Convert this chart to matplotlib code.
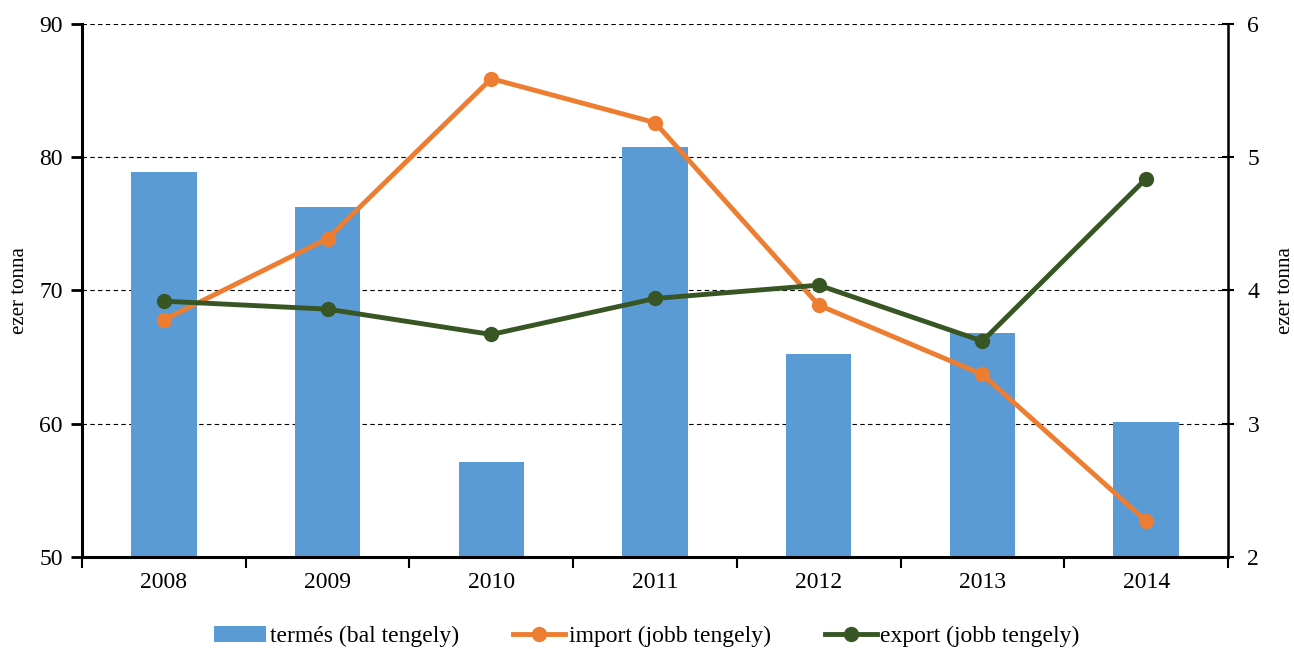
import numpy as np
import matplotlib.pyplot as plt
from matplotlib.ticker import FixedLocator, NullFormatter

plt.rcParams['font.family'] = ['Liberation Serif', 'DejaVu Serif']

# %%
years = ['2008', '2009', '2010', '2011', '2012', '2013', '2014']
termes = [78.9, 76.3, 57.1, 80.8, 65.2, 66.8, 60.1]
import_ = [3.78, 4.39, 5.59, 5.26, 3.89, 3.37, 2.27]
export = [3.92, 3.86, 3.67, 3.94, 4.04, 3.62, 4.84]

# %%
fig = plt.figure(figsize=(12.94, 6.49), dpi=100)
ax1 = fig.add_axes([0.0634, 0.1418, 0.8856, 0.8212])
ax2 = ax1.twinx()

x = np.arange(len(years))
ax1.bar(x, termes, width=0.4, color='#5b9bd5', label='termés (bal tengely)', zorder=2)
ax1.set_ylim(50, 90)
ax1.set_xlim(-0.5, len(years) - 0.5)
ax1.set_yticks([50, 60, 70, 80, 90])
ax1.grid(axis='y', color='black', linestyle=(0, (4, 3)), linewidth=0.8, zorder=0)
ax1.set_axisbelow(True)
ax1.set_ylabel('ezer tonna', fontsize=15, labelpad=7)

ax1.set_xticks(x)
ax1.set_xticklabels(years, fontsize=17)
ax1.tick_params(axis='x', length=0, pad=11)
ax1.xaxis.set_minor_locator(FixedLocator(np.arange(-0.5, len(years), 1)))
ax1.xaxis.set_minor_formatter(NullFormatter())
ax1.tick_params(axis='x', which='minor', length=8, width=1.5, direction='out')
ax1.tick_params(axis='y', labelsize=17, length=8, width=2, direction='out', pad=6)

ax2.plot(x, import_, color='#ed7d31', linewidth=3.5, marker='o', markersize=10,
         label='import (jobb tengely)', zorder=3)
ax2.plot(x, export, color='#375623', linewidth=3.5, marker='o', markersize=10,
         label='export (jobb tengely)', zorder=3)
ax2.set_ylim(2, 6)
ax2.set_yticks([2, 3, 4, 5, 6])
ax2.set_ylabel('ezer tonna', fontsize=15, rotation=90, labelpad=12)
ax2.tick_params(axis='y', labelsize=17, length=8, width=1.5, direction='inout', pad=10)

for a in (ax1, ax2):
    a.spines['top'].set_visible(False)
ax1.spines['left'].set_linewidth(2.2)
ax1.spines['bottom'].set_linewidth(2.2)
ax2.spines['left'].set_visible(False)
ax2.spines['bottom'].set_visible(False)
ax2.spines['right'].set_linewidth(1.8)

h1, l1 = ax1.get_legend_handles_labels()
h2, l2 = ax2.get_legend_handles_labels()
fig.legend(h1 + h2, l1 + l2, loc='lower center', bbox_to_anchor=(0.5, -0.03), ncol=3,
           frameon=False, fontsize=17, handlelength=2.2, handletextpad=0.15, columnspacing=2.3)

plt.savefig('out.png', dpi=100)
